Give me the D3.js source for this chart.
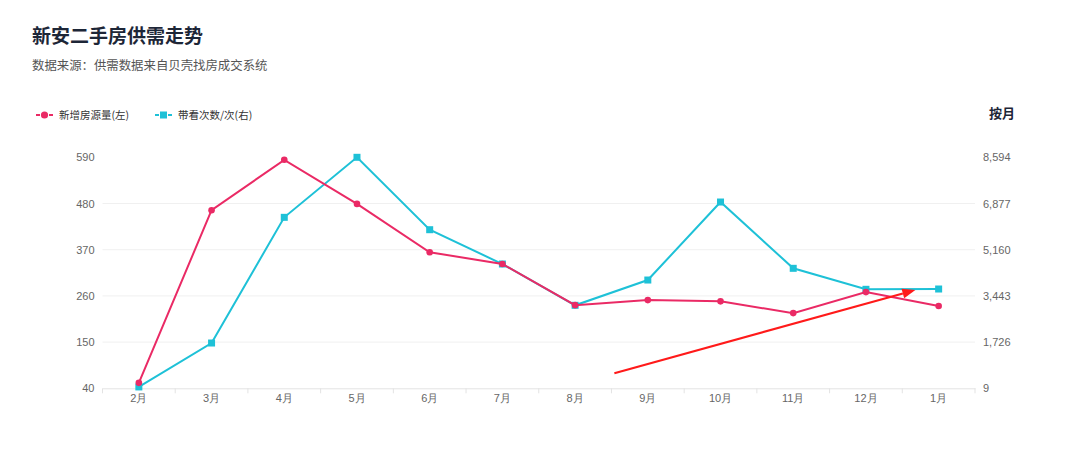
<!DOCTYPE html>
<html><head><meta charset="utf-8">
<script src="https://cdn.jsdelivr.net/npm/d3@7"></script>
<style>
html,body{margin:0;padding:0;background:#fff;}
svg{display:block;font-family:"Noto Sans CJK SC","Noto Sans",sans-serif;}
</style></head>
<body>
<svg id="c" width="1080" height="458"></svg>
<script>
const months = ["2月","3月","4月","5月","6月","7月","8月","9月","10月","11月","12月","1月"];
const newListings = [53, 464, 584, 479, 364, 336, 238, 250, 247, 219, 269, 236];
const viewings = [60, 1692, 6363, 8594, 5903, 4628, 3093, 4033, 6932, 4468, 3688, 3699];
const leftTicks = [40, 150, 260, 370, 480, 590];
const rightTicks = [9, 1726, 3443, 5160, 6877, 8594];
// trend arrow annotation, in data units (category index, right-axis value)
const arrowFrom = [6.54, 566];
const arrowTo = [10.68, 3662];

const pink = "#ea2a65", cyan = "#1ec1d7";
const svg = d3.select("#c");

const x = d3.scaleBand().domain(months).range([102.5, 975]);
const yL = d3.scaleLinear().domain([40, 590]).range([388.3, 157.3]);
const yR = d3.scaleLinear().domain([9, 8594]).range([388.3, 157.3]);
const cx = d => x(d) + x.bandwidth() / 2;
const xIdx = i => x(months[0]) + x.bandwidth() / 2 + i * x.step();

// title
svg.append("text").attr("x", 32).attr("y", 43).attr("font-size", 19).attr("font-weight", "bold")
  .attr("fill", "#1d2637").text("新安二手房供需走势");
svg.append("text").attr("x", 32).attr("y", 70).attr("font-size", 12.4).attr("fill", "#555")
  .text("数据来源：供需数据来自贝壳找房成交系统");

// legend
const leg = [{name:"新增房源量(左)", c:pink, shape:"circle", x:36},{name:"带看次数/次(右)", c:cyan, shape:"square", x:155}];
leg.forEach(l => {
  const g = svg.append("g");
  g.append("line").attr("x1", l.x).attr("x2", l.x + 17).attr("y1", 115).attr("y2", 115)
    .attr("stroke", l.c).attr("stroke-width", 2).attr("stroke-dasharray", "4,2.5");
  if (l.shape === "circle") g.append("circle").attr("cx", l.x + 8.5).attr("cy", 115).attr("r", 3.6).attr("fill", l.c);
  else g.append("rect").attr("x", l.x + 5).attr("y", 111.5).attr("width", 7).attr("height", 7).attr("fill", l.c);
  g.append("text").attr("x", l.x + 23).attr("y", 119).attr("font-size", 10.5).attr("fill", "#333").text(l.name);
});
svg.append("text").attr("x", 1002).attr("y", 118).attr("text-anchor", "middle").attr("font-size", 13)
  .attr("font-weight", "bold").attr("fill", "#1d2637").text("按月");

// gridlines
svg.append("g").selectAll("line").data(leftTicks.slice(1, -1)).join("line")
  .attr("x1", 102.5).attr("x2", 975).attr("y1", d => yL(d)).attr("y2", d => yL(d))
  .attr("stroke", "#f0f0f0").attr("stroke-width", 1);

// axes
const fmt = d3.format(",");
const gL = svg.append("g").attr("transform", "translate(102.5,0)")
  .call(d3.axisLeft(yL).tickValues(leftTicks).tickSize(0).tickPadding(8));
gL.select(".domain").remove();
gL.selectAll("text").attr("fill", "#666").attr("font-size", 11).attr("font-family", "Liberation Sans, Arial, sans-serif");

const gR = svg.append("g").attr("transform", "translate(975,0)")
  .call(d3.axisRight(yR).tickValues(rightTicks).tickFormat(fmt).tickSize(0).tickPadding(8));
gR.select(".domain").remove();
gR.selectAll("text").attr("fill", "#666").attr("font-size", 11).attr("font-family", "Liberation Sans, Arial, sans-serif");

const gX = svg.append("g").attr("transform", "translate(0,388.3)")
  .call(d3.axisBottom(x).tickSize(0).tickPadding(6));
gX.select(".domain").attr("stroke", "#e3e3e3");
gX.selectAll("text").attr("fill", "#666").attr("font-size", 11);
// boundary ticks
svg.append("g").selectAll("line").data(d3.range(months.length + 1)).join("line")
  .attr("x1", i => x.range()[0] + i * x.step()).attr("x2", i => x.range()[0] + i * x.step())
  .attr("y1", 388.3).attr("y2", 393.3).attr("stroke", "#e3e3e3");

// cyan series (right)
svg.append("path").datum(viewings).attr("fill", "none").attr("stroke", cyan).attr("stroke-width", 2)
  .attr("d", d3.line().x((d, i) => cx(months[i])).y(d => yR(d)));
svg.append("g").selectAll("rect").data(viewings).join("rect")
  .attr("x", (d, i) => cx(months[i]) - 3.5).attr("y", d => yR(d) - 3.5).attr("width", 7).attr("height", 7).attr("fill", cyan);

// pink series (left)
svg.append("path").datum(newListings).attr("fill", "none").attr("stroke", pink).attr("stroke-width", 2)
  .attr("d", d3.line().x((d, i) => cx(months[i])).y(d => yL(d)));
svg.append("g").selectAll("circle").data(newListings).join("circle")
  .attr("cx", (d, i) => cx(months[i])).attr("cy", d => yL(d)).attr("r", 3.3).attr("fill", pink);

// red arrow
const ax1 = xIdx(arrowFrom[0]), ay1 = yR(arrowFrom[1]);
const ax2 = xIdx(arrowTo[0]), ay2 = yR(arrowTo[1]);
const ang = Math.atan2(ay2 - ay1, ax2 - ax1);
const hl = 13, hw = 5;
const bx = ax2 - hl * Math.cos(ang), by = ay2 - hl * Math.sin(ang);
svg.append("line").attr("x1", ax1).attr("y1", ay1).attr("x2", bx).attr("y2", by)
  .attr("stroke", "#ff1a1a").attr("stroke-width", 2.2);
svg.append("path").attr("fill", "#ff1a1a").attr("d",
  `M${ax2},${ay2}L${bx + hw * Math.sin(ang)},${by - hw * Math.cos(ang)}L${bx - hw * Math.sin(ang)},${by + hw * Math.cos(ang)}Z`);
</script>
</body></html>
